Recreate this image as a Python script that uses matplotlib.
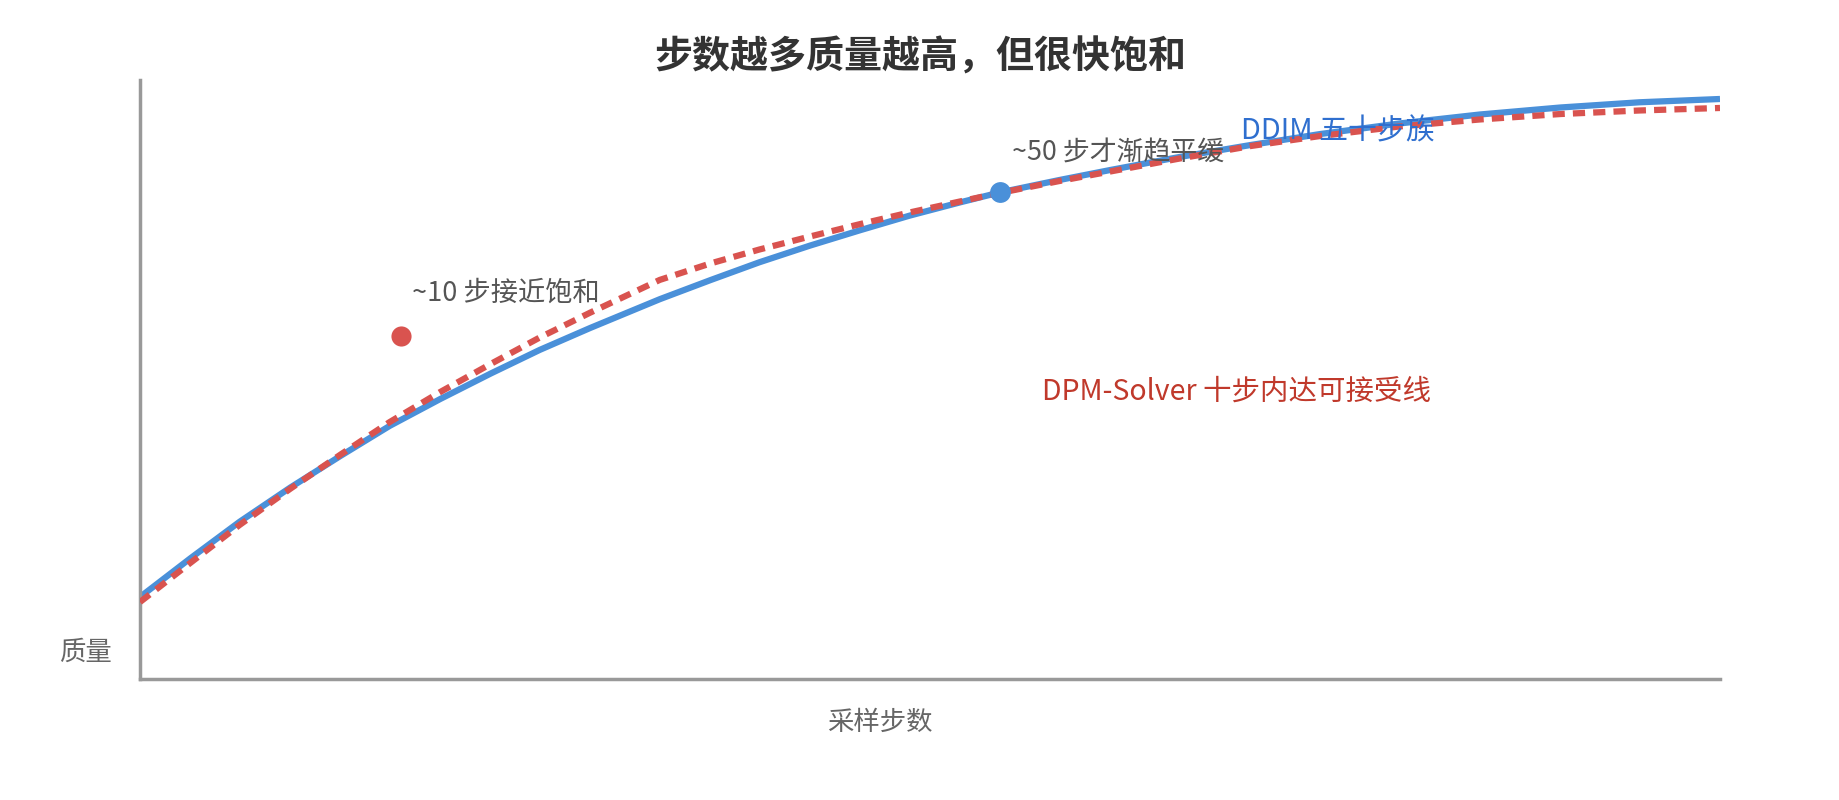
import matplotlib
matplotlib.use('Agg')

import matplotlib.pyplot as plt

plt.rcParams['font.family'] = ['Noto Sans CJK SC', 'DejaVu Sans']

# Schematic curves, normalised 0-100 on both axes (no ticks shown)
steps_norm = [0, 3.2, 6.3, 9.5, 12.7, 15.8, 19.0, 22.2, 25.3, 28.5, 32.9, 36.1,
              39.2, 42.4, 45.6, 48.7, 51.9, 54.4, 58.2, 61.4, 65.8, 70.3, 74.7,
              79.7, 84.8, 89.9, 94.9, 100]
ddim_quality = [13.69, 20.17, 26.24, 31.94, 37.26, 42.25, 46.74, 51.00, 54.94,
                58.61, 63.41, 66.59, 69.57, 72.35, 74.94, 77.35, 79.57, 81.22,
                83.31, 84.97, 87.15, 89.15, 90.98, 92.74, 94.24, 95.41, 96.28,
                96.83]
dpm_quality = [12.85, 19.41, 25.71, 31.74, 37.48, 42.89, 47.91, 52.60, 57.01,
               61.17, 66.63, 69.37, 71.70, 73.87, 75.96, 77.88, 79.72, 81.14,
               83.14, 84.72, 86.89, 88.98, 90.65, 92.24, 93.41, 94.32, 94.91,
               95.33]

# highlighted points
dpm_point = (16.5, 57.3)
ddim_point = (54.4, 81.3)

blue = '#4a90d9'
red = '#d9534f'

fig = plt.figure(figsize=(18.4, 8), dpi=100)
ax = fig.add_axes([140 / 1840, 1 - 679 / 800, 1580 / 1840, 599 / 800])

ax.plot(steps_norm, ddim_quality, color=blue, linewidth=4.5,
        solid_capstyle='butt', solid_joinstyle='round', zorder=2)
ax.plot(steps_norm, dpm_quality, color=red, linewidth=4.5,
        dashes=(1.95, 1.3), dash_capstyle='butt', zorder=3)

ax.plot([dpm_point[0]], [dpm_point[1]], 'o', color=red, markersize=14.5,
        markeredgewidth=0, zorder=4)
ax.plot([ddim_point[0]], [ddim_point[1]], 'o', color=blue, markersize=15,
        markeredgewidth=0, zorder=4)

# annotations
ax.text(17.2, 63.1, '~10 步接近饱和', fontsize=19.6, color='#555555',
        ha='left', va='baseline', zorder=5)
ax.text(55.2, 86.6, '~50 步才渐趋平缓', fontsize=19.4, color='#555555',
        ha='left', va='baseline', zorder=5)
ax.text(69.7, 90.0, 'DDIM 五十步族', fontsize=20.8, color='#2f6fcf',
        ha='left', va='baseline', zorder=5)
ax.text(57.1, 46.6, 'DPM-Solver 十步内达可接受线', fontsize=20.5, color='#c0392b',
        ha='left', va='baseline', zorder=5)

ax.set_xlim(0, 100)
ax.set_ylim(0, 100)
ax.set_xticks([])
ax.set_yticks([])
for side in ['top', 'right']:
    ax.spines[side].set_visible(False)
for side in ['left', 'bottom']:
    ax.spines[side].set_color('#999999')
    ax.spines[side].set_linewidth(2.5)

# title and axis labels
fig.text(0.5, 1 - 69 / 800, '步数越多质量越高，但很快饱和', fontsize=27.4,
         fontweight='heavy', color='#333333', ha='center', va='baseline')
fig.text(880 / 1840, 1 - 730 / 800, '采样步数', fontsize=19, color='#666666',
         ha='center', va='baseline')
fig.text(112 / 1840, 1 - 660 / 800, '质量', fontsize=19, color='#666666',
         ha='right', va='baseline')

fig.savefig('out.png', dpi=100)
